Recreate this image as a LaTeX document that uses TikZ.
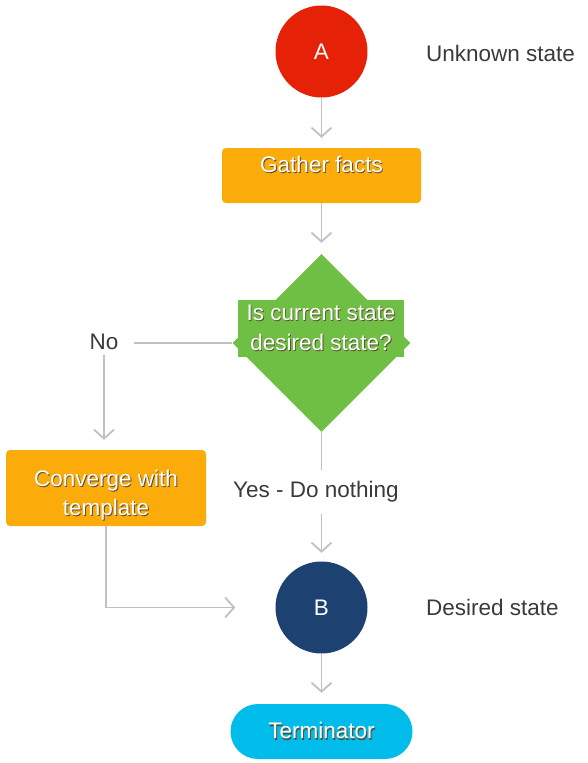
\documentclass[tikz,border=0pt]{standalone}
\usepackage{fontspec}
\setmainfont{Liberation Sans}
\usepackage{xcolor}
\usepackage{tikz}
\usetikzlibrary{positioning}
\usetikzlibrary{shapes.geometric}
\usetikzlibrary{arrows.meta}

\definecolor{stateRed}{HTML}{E52207}
\definecolor{procOrange}{HTML}{FBAB0A}
\definecolor{testGreen}{HTML}{6FBF44}
\definecolor{stateNavy}{HTML}{1D4271}
\definecolor{termCyan}{HTML}{00BCEB}
\definecolor{lineGray}{HTML}{C0C0C0}
\definecolor{labelGray}{HTML}{3A3A3A}
\definecolor{shadowGray}{HTML}{5E4C30}

\newcommand{\shtext}[1]{\leavevmode\rlap{\kern0.9pt\raisebox{-1.2pt}{\textcolor{shadowGray}{#1}}}#1}

\begin{document}
\begin{tikzpicture}[x=1pt,y=-1pt,
  font=\fontsize{22.5}{29}\selectfont,
  statenode/.style={circle,minimum size=92pt,inner sep=0pt,text=white},
  procbox/.style={rectangle,rounded corners=4pt,fill=procOrange,inner sep=0pt},
  boxtext/.style={text=white,align=center,inner sep=0pt},
  sidelabel/.style={text=labelGray,anchor=west,inner sep=0pt},
  flow/.style={draw=lineGray,line width=1.8pt,-{Straight Barb[length=9pt,width=20pt]}},
  plain/.style={draw=lineGray,line width=1.8pt}]

\useasboundingbox (0,0) rectangle (588,763);

%states
\node[statenode,fill=stateRed] (nA) at (321.5,51.5) {A};
\node[statenode,fill=stateNavy] (nB) at (321.5,607.5) {B};

\node[sidelabel] (unknown) at (426,53) {Unknown state};
\node[sidelabel] (desired) at (426,607) {Desired state};

%process boxes
\node[procbox,minimum width=199pt,minimum height=55pt] (gather) at (321.5,175.5) {};
\node[boxtext] (gathertext) at (321.5,165) {\shtext{Gather facts}};

\node[procbox,minimum width=200pt,minimum height=76pt] (converge) at (106,488) {};
\node[boxtext] (convergetext) at (106,496) {\shtext{Converge with}\\\shtext{template}};

%decision
\node[diamond,fill=testGreen,minimum width=178pt,minimum height=178pt,inner sep=0pt] (decide) at (321.5,343) {};
\node[boxtext,fill=testGreen,minimum width=166pt,minimum height=57pt,
  font=\fontsize{22.5}{30}\selectfont] (question) at (321,328.5)
  {\shtext{Is current state}\\\shtext{desired state?}};

\node[text=labelGray,inner xsep=15pt,inner ysep=5pt] (no) at (104,342) {No};
\node[text=labelGray,inner xsep=0pt,inner ysep=11pt] (yes) at (316,492) {Yes - Do nothing};

%terminator
\node[rectangle,rounded corners=27.5pt,fill=termCyan,minimum width=182pt,minimum height=55pt,
  inner sep=0pt,text=white] (term) at (321.5,731.5) {\shtext{Terminator}};

%connectors
\draw[flow,shorten >=10pt] (nA.south) -- (gather.north);
\draw[flow,shorten >=11pt] (gather.south) -- (decide.north);
\draw[plain] (decide.west) -- (decide.west -| no.east);
\draw[flow,shorten >=10pt] (no.south) -- (no.south |- converge.north);
\draw[plain] (decide.south) -- (decide.south |- yes.north);
\draw[flow,shorten >=8.5pt] (decide.south |- yes.south) -- (nB.north);
\draw[flow,shorten >=40pt] (converge.south) |- (nB.west);
\draw[flow,shorten >=11pt] (nB.south) -- (term.north);

\end{tikzpicture}
\end{document}
